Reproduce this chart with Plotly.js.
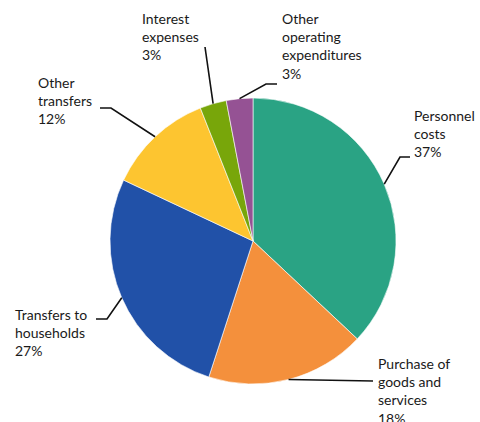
<!DOCTYPE html>
<html>
<head>
<meta charset="utf-8">
<script src="https://cdn.plot.ly/plotly-3.0.1.min.js"></script>
<style>html,body{margin:0;padding:0;background:#fff;}#chart{width:480px;height:422px;}</style>
</head>
<body>
<div id="chart"></div>
<script>
// ---- data ----
var categories = ["Personnel costs", "Purchase of goods and services", "Transfers to households", "Other transfers", "Interest expenses", "Other operating expenditures"];
var labelTexts = ["Personnel<br>costs", "Purchase of<br>goods and<br>services", "Transfers to<br>households", "Other<br>transfers", "Interest<br>expenses", "Other<br>operating<br>expenditures"];
var shares = [37, 18, 27, 12, 3, 3];
var colors = ["#2aa384", "#f4903c", "#2151a8", "#fdc530", "#78a60a", "#955294"];

// ---- layout of labels (pixel positions of text block & leader elbows) ----
var W = 480, H = 422;
var cx = 253, cy = 241, R = 143;
var labelPos = [
  {tx: 412, ty: 133.5, elbow: [400, 157], end: [410, 157]},
  {tx: 376, ty: 391,   elbow: null,       end: [373, 381]},
  {tx: 13,  ty: 332,   elbow: [107, 319], end: [96, 319]},
  {tx: 36,  ty: 101,   elbow: [111, 108], end: [100, 108]},
  {tx: 140, ty: 36,    elbow: null,       end: [205, 47]},
  {tx: 280, ty: 46,    elbow: [266, 84],  end: [277, 84]}
];

function px(x){ return x / W; }
function py(y){ return 1 - y / H; }

var total = shares.reduce(function(a,b){return a+b;}, 0);
var annotations = [], shapes = [];
var cum = 0;
shares.forEach(function(v, i){
  var mid = (cum + v/2) / total * 2 * Math.PI; // clockwise from 12 o'clock
  cum += v;
  var sx = cx + R * Math.sin(mid), sy = cy - R * Math.cos(mid);
  var p = labelPos[i];
  var path = 'M' + px(sx) + ',' + py(sy);
  if (p.elbow) path += ' L' + px(p.elbow[0]) + ',' + py(p.elbow[1]);
  path += ' L' + px(p.end[0]) + ',' + py(p.end[1]);
  shapes.push({type: 'path', xref: 'paper', yref: 'paper', path: path,
    line: {color: '#111', width: 1.6}});
  annotations.push({xref: 'paper', yref: 'paper', x: px(p.tx), y: py(p.ty),
    xanchor: 'left', yanchor: 'middle', align: 'left', showarrow: false,
    text: labelTexts[i] + '<br>' + v + '%',
    font: {family: 'Lato, sans-serif', size: 14, color: '#1a1a1a'}});
});

var trace = {
  type: 'pie',
  labels: categories,
  values: shares,
  sort: false,
  direction: 'clockwise',
  rotation: 0,
  textinfo: 'none',
  hoverinfo: 'label+percent',
  marker: {colors: colors, line: {color: '#ffffff', width: 0.6}},
  domain: {x: [px(cx - R), px(cx + R)], y: [py(cy + R), py(cy - R)]},
  showlegend: false
};

Plotly.newPlot('chart', [trace], {
  width: W, height: H,
  margin: {l: 0, r: 0, t: 0, b: 0},
  paper_bgcolor: '#ffffff',
  showlegend: false,
  annotations: annotations,
  shapes: shapes
}, {displayModeBar: false, staticPlot: true});
</script>
</body>
</html>
